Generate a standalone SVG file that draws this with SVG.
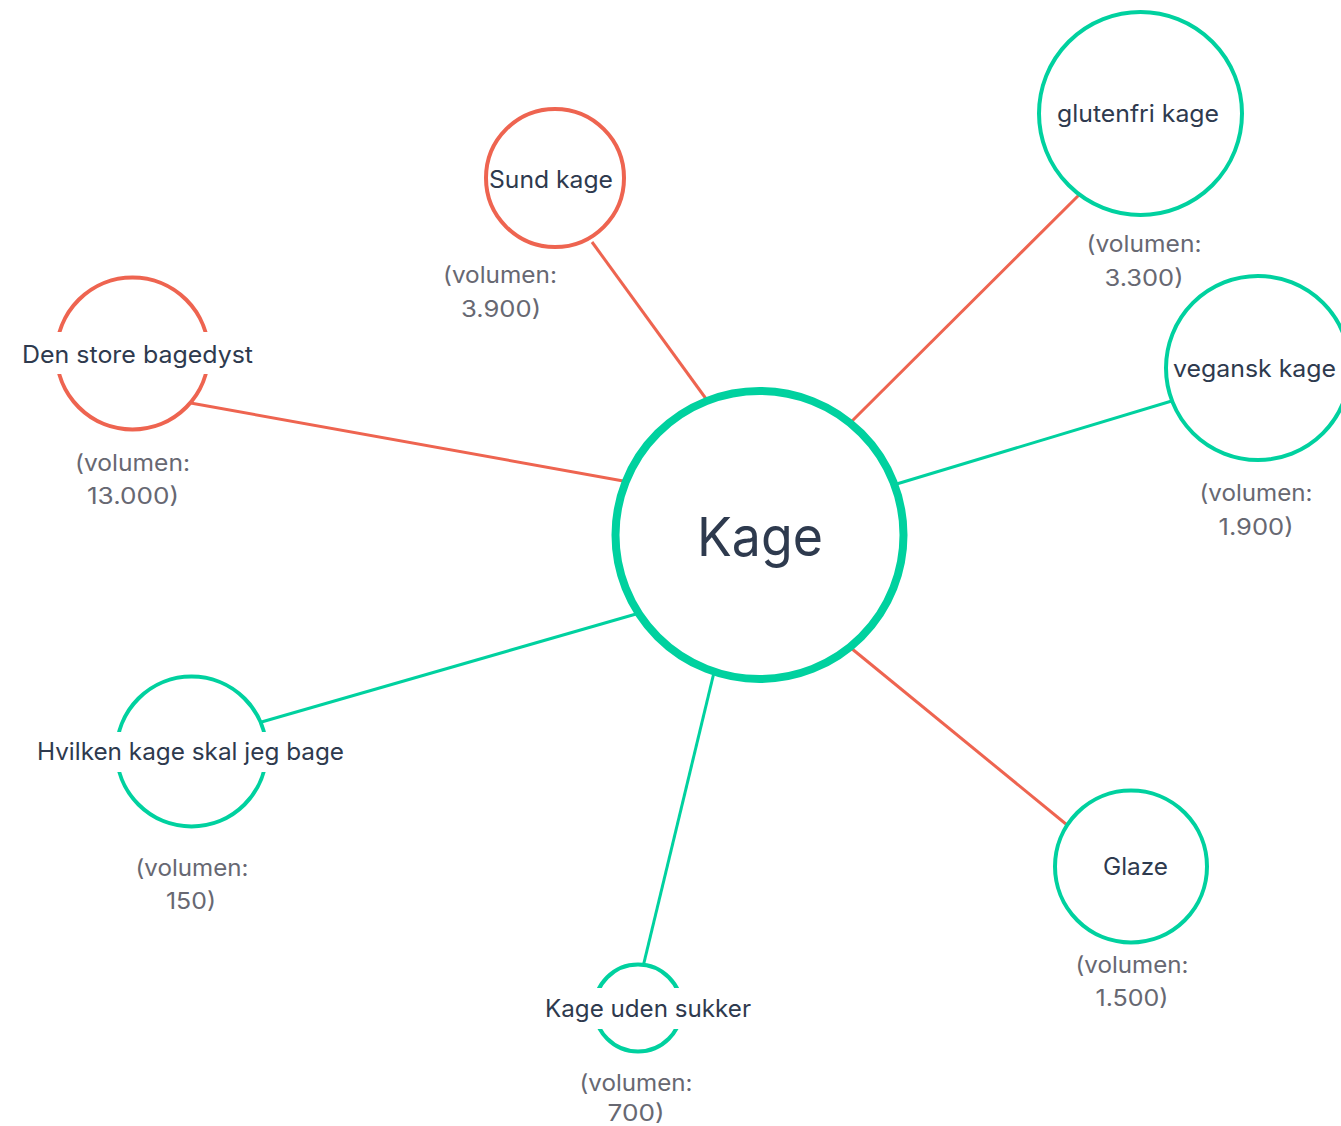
<svg xmlns="http://www.w3.org/2000/svg" width="1341" height="1126" viewBox="0 0 1341 1126">
<style>
.g{fill:#fff;stroke:#00D19F;stroke-width:4}
.r{fill:#fff;stroke:#EE6450;stroke-width:4}
.lr{stroke:#EE6450;stroke-width:3;fill:none}
.lg{stroke:#00D19F;stroke-width:3;fill:none}
.t{font-family:Inter,"Noto Sans",sans-serif;font-size:24px;fill:#2E3A4E;text-anchor:middle}
.v{font-family:Inter,"Noto Sans",sans-serif;font-size:23px;fill:#676872;text-anchor:middle}
.bg{fill:#fff}
</style>
<rect width="1341" height="1126" fill="#fff"/>
<g id="connectors">
<line class="lr" x1="592" y1="242" x2="720" y2="418"/>
<line class="lr" x1="1085" y1="189" x2="840" y2="433"/>
<line class="lg" x1="1175" y1="400" x2="880" y2="489"/>
<line class="lr" x1="185" y1="402" x2="640" y2="484"/>
<line class="lg" x1="258" y1="723" x2="650" y2="610"/>
<line class="lg" x1="642" y1="971" x2="717" y2="660"/>
<line class="lr" x1="840" y1="639" x2="1072" y2="829"/>
</g>
<g id="node-kage">
<circle cx="759.5" cy="535" r="144" fill="#fff" stroke="#00D19F" stroke-width="8"/>
<text x="760" y="556" font-family="Inter,'Noto Sans',sans-serif" font-size="54" fill="#2E3A4E" text-anchor="middle" textLength="126" lengthAdjust="spacingAndGlyphs">Kage</text>
</g>
<g id="node-sund">
<circle class="r" cx="555" cy="178" r="69"/>
<text class="t" x="551" y="188" textLength="124" lengthAdjust="spacingAndGlyphs">Sund kage</text>
<text class="v" x="500" y="283" textLength="114" lengthAdjust="spacingAndGlyphs">(volumen:</text>
<text class="v" x="501" y="317" textLength="80" lengthAdjust="spacingAndGlyphs">3.900)</text>
</g>
<g id="node-glutenfri">
<circle class="g" cx="1140.5" cy="113.5" r="101.5"/>
<text class="t" x="1138" y="122" textLength="162" lengthAdjust="spacingAndGlyphs">glutenfri kage</text>
<text class="v" x="1144" y="252" textLength="115" lengthAdjust="spacingAndGlyphs">(volumen:</text>
<text class="v" x="1144" y="286" textLength="79" lengthAdjust="spacingAndGlyphs">3.300)</text>
</g>
<g id="node-vegansk">
<circle class="g" cx="1258" cy="368" r="92"/>
<text class="t" x="1254.5" y="377" textLength="163" lengthAdjust="spacingAndGlyphs">vegansk kage</text>
<text class="v" x="1256" y="501" textLength="113" lengthAdjust="spacingAndGlyphs">(volumen:</text>
<text class="v" x="1256" y="535" textLength="75" lengthAdjust="spacingAndGlyphs">1.900)</text>
</g>
<g id="node-bagedyst">
<circle class="r" cx="132.5" cy="353.5" r="76"/>
<rect class="bg" x="18" y="332" width="240" height="42"/>
<text class="t" x="137.5" y="363" textLength="231" lengthAdjust="spacingAndGlyphs">Den store bagedyst</text>
<text class="v" x="132.5" y="471" textLength="115" lengthAdjust="spacingAndGlyphs">(volumen:</text>
<text class="v" x="133" y="504" textLength="92" lengthAdjust="spacingAndGlyphs">13.000)</text>
</g>
<g id="node-hvilken">
<circle class="g" cx="191.5" cy="751.5" r="75"/>
<rect class="bg" x="33" y="732" width="316" height="40"/>
<text class="t" x="190.5" y="760" textLength="307" lengthAdjust="spacingAndGlyphs">Hvilken kage skal jeg bage</text>
<text class="v" x="192" y="876" textLength="113" lengthAdjust="spacingAndGlyphs">(volumen:</text>
<text class="v" x="191" y="909" textLength="50" lengthAdjust="spacingAndGlyphs">150)</text>
</g>
<g id="node-sukker">
<circle class="g" cx="638" cy="1008" r="43.5" stroke-width="3"/>
<rect class="bg" x="541" y="988" width="214" height="41"/>
<text class="t" x="648" y="1017" textLength="206" lengthAdjust="spacingAndGlyphs">Kage uden sukker</text>
<text class="v" x="636" y="1091" textLength="113" lengthAdjust="spacingAndGlyphs">(volumen:</text>
<text class="v" x="636" y="1121" textLength="57" lengthAdjust="spacingAndGlyphs">700)</text>
</g>
<g id="node-glaze">
<circle class="g" cx="1131" cy="866.5" r="76"/>
<text class="t" x="1135.5" y="875" textLength="65" lengthAdjust="spacingAndGlyphs">Glaze</text>
<text class="v" x="1132" y="973" textLength="113" lengthAdjust="spacingAndGlyphs">(volumen:</text>
<text class="v" x="1132" y="1006" textLength="73" lengthAdjust="spacingAndGlyphs">1.500)</text>
</g>
</svg>
